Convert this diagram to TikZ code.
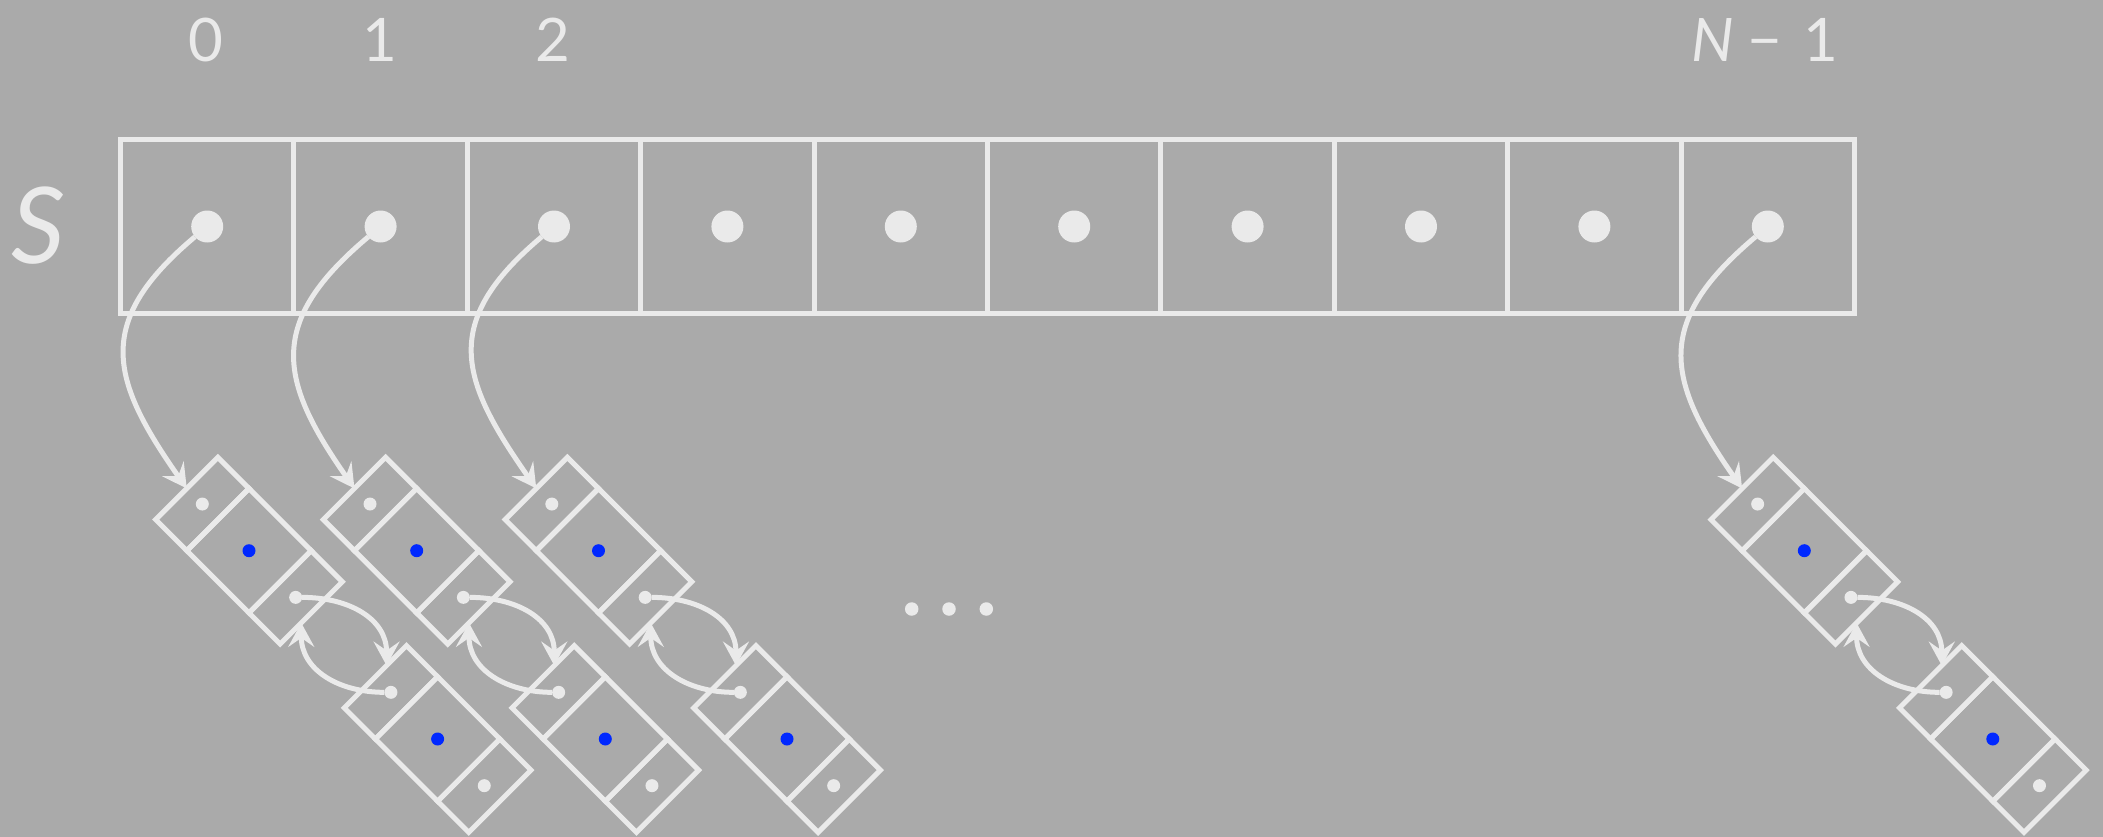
\documentclass[tikz,border=0pt]{standalone}
\usepackage{fontspec}
\setmainfont{Lato}
\usetikzlibrary{arrows.meta,calc}
\definecolor{bg}{RGB}{170,170,170}
\definecolor{fg}{RGB}{234,234,234}
\definecolor{keyblue}{RGB}{0,40,255}

\newcommand\dllnode[3]{%
  \begin{scope}[shift={(#2,#3)},rotate=-45,transform shape]
    \node[endcell] (#1p) at (-66,0) {};
    \node[keycell] (#1k) at (0,0) {};
    \node[endcell] (#1n) at (66,0) {};
  \end{scope}
  \node[smalldot] (#1pd) at (#1p.center) {};
  \node[bluedot] (#1kd) at (#1k.center) {};
  \node[smalldot] (#1nd) at (#1n.center) {};
  \coordinate (#1in) at ($(#1p.north west)!0.32!(#1p.south west)$);
  \coordinate (#1back) at ($(#1n.south east)!0.34!(#1n.north east)$);
}

\begin{document}
\begin{tikzpicture}[x=1pt,y=1pt,
  ln/.style={draw=fg, line width=5pt},
  acell/.style={ln, minimum width=173.4pt, minimum height=173.4pt, inner sep=0pt, outer sep=0pt},
  endcell/.style={ln, minimum width=44pt, minimum height=88pt, inner sep=0pt, outer sep=0pt},
  keycell/.style={ln, minimum width=88pt, minimum height=88pt, inner sep=0pt, outer sep=0pt},
  bigdot/.style={circle, fill=fg, minimum size=32pt, inner sep=0pt, outer sep=0pt},
  smalldot/.style={circle, fill=fg, minimum size=13pt, inner sep=0pt, outer sep=0pt},
  bluedot/.style={circle, fill=keyblue, minimum size=13pt, inner sep=0pt, outer sep=0pt},
  edot/.style={circle, fill=fg, minimum size=13.5pt, inner sep=0pt, outer sep=0pt},
  arr/.style={draw=fg, line width=5pt, -{Stealth[length=24pt,width=26pt,inset=9pt]}},
  lbl/.style={text=fg, inner sep=0pt, font=\fontsize{60}{60}\selectfont},
  slbl/.style={text=fg, inner sep=0pt, font=\fontsize{106}{106}\selectfont\itshape}
]
\fill[bg] (0,0) rectangle (2103,-837);
\useasboundingbox (0,0) rectangle (2103,-837);

% array S
\foreach \i in {0,...,9} {
  \node[acell] (s\i) at ({120.5+173.4*(\i+0.5)},-226.5) {};
  \node[bigdot] (d\i) at (s\i.center) {};
}

% labels
\node[slbl] (S) at (38,-226) {S};
\node[lbl] (l0) at (206.2,-40) {0};
\node[lbl] (l1) at (379.6,-40) {1};
\node[lbl] (l2) at (553.0,-40) {2};
\node[lbl] (l9) at (1765,-40) {{\itshape N}\hspace{0.22em}−\hspace{0.35em}1};

% lists
\dllnode{h0}{249}{-550.7}
\dllnode{t0}{437.6}{-739}
\dllnode{h1}{416.7}{-550.7}
\dllnode{t1}{605.3}{-739}
\dllnode{h2}{598.5}{-550.7}
\dllnode{t2}{787}{-739}
\dllnode{h9}{1804.3}{-550.7}
\dllnode{t9}{1992.8}{-739}

% connectors
\foreach \c/\h/\t in {0/h0/t0, 1/h1/t1, 2/h2/t2, 9/h9/t9} {
  \draw[arr] (d\c) to[out=220,in=125,looseness=1.35] (\h p.west);
  \draw[arr] (\h nd) to[out=0,in=90,looseness=1.1] (\t in);
  \draw[arr] (\t pd) to[out=180,in=-90,looseness=1.1] (\h back);
}

% ellipsis
\node[edot] (e1) at (911.7,-609) {};
\node[edot] (e2) at (949,-609) {};
\node[edot] (e3) at (986.3,-609) {};
\end{tikzpicture}
\end{document}
